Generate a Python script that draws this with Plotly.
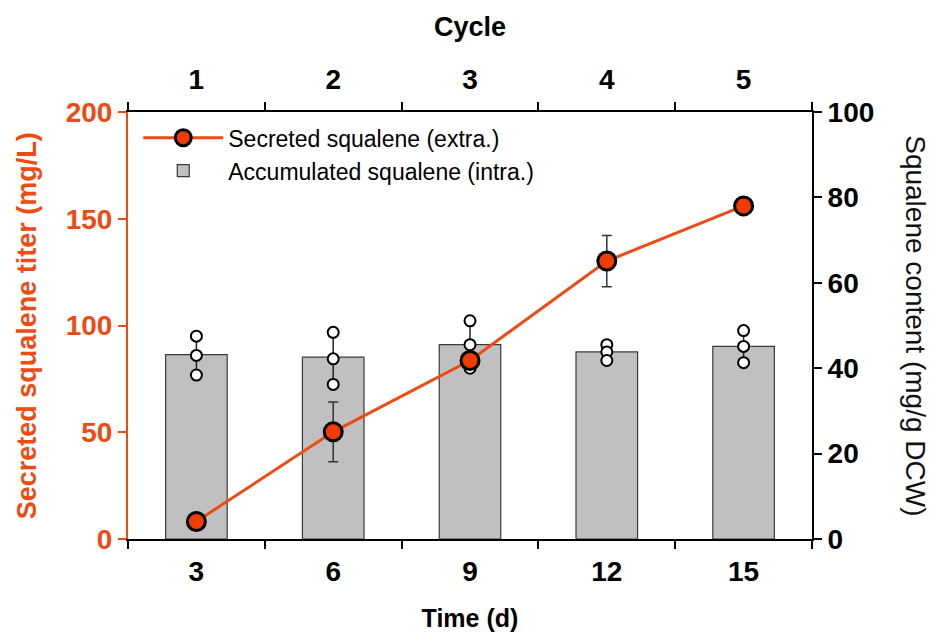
import plotly.graph_objects as go

days = ["3", "6", "9", "12", "15"]
cycles = ["1", "2", "3", "4", "5"]

# Secreted squalene titer (mg/L), left axis
secreted = [8.2, 50.2, 83.6, 130.2, 156.0]
secreted_err = [1.5, 14.0, 2.0, 12.0, 1.5]

# Accumulated squalene content (mg/g DCW), right axis
accumulated = [43.2, 42.6, 45.5, 43.8, 45.1]
accumulated_err = [4.5, 6.0, 5.2, 1.8, 3.7]
replicates = [
    [47.5, 43.0, 38.4],
    [48.4, 42.2, 36.2],
    [51.1, 45.5, 40.0],
    [45.5, 43.8, 41.8],
    [48.8, 45.1, 41.3],
]

ORANGE = "#EE4A14"
MARKER = "#F03C00"
FONT = "Liberation Sans, Arial, sans-serif"
TICK = 28

fig = go.Figure()

fig.add_trace(go.Scatter(
    x=days, y=secreted, name="Secreted squalene (extra.)",
    mode="lines+markers",
    line=dict(color=ORANGE, width=3),
    marker=dict(size=18, color=MARKER, line=dict(color="black", width=3)),
    error_y=dict(type="data", array=secreted_err, color="#333333", thickness=1.5, width=5),
    xaxis="x", yaxis="y2",
))

fig.add_trace(go.Bar(
    x=days, y=accumulated, name="Accumulated squalene (intra.)",
    marker=dict(color="#C0C0C0", line=dict(color="#3A3A3A", width=1.2)),
    width=0.45,
    error_y=dict(type="data", array=accumulated_err, color="#222222", thickness=1.5, width=0),
    xaxis="x", yaxis="y",
))

rep_x, rep_y = [], []
for d, vals in zip(days, replicates):
    for v in vals:
        rep_x.append(d)
        rep_y.append(v)
fig.add_trace(go.Scatter(
    x=rep_x, y=rep_y, mode="markers", showlegend=False, hoverinfo="skip",
    marker=dict(size=11, color="white", line=dict(color="black", width=2)),
    xaxis="x", yaxis="y",
))

# invisible trace so the top (cycle) axis is drawn
fig.add_trace(go.Scatter(
    x=cycles, y=[None] * len(cycles), mode="markers", showlegend=False,
    hoverinfo="skip", xaxis="x2", yaxis="y",
))

fig.update_layout(
    width=938, height=640,
    margin=dict(l=128, r=126, t=112, b=99),
    paper_bgcolor="white", plot_bgcolor="white",
    font=dict(family=FONT, color="black"),
    showlegend=True,
    legend=dict(x=0.015, y=0.99, xanchor="left", yanchor="top",
                font=dict(size=23, family=FONT, color="black"),
                bgcolor="rgba(0,0,0,0)", traceorder="normal",
                itemwidth=80),
    xaxis=dict(
        type="category", categoryorder="array", categoryarray=days,
        range=[-0.5, 4.5], tickson="boundaries",
        ticks="outside", ticklen=8, tickwidth=2, tickcolor="black",
        showline=True, linecolor="black", linewidth=2,
        tickfont=dict(size=TICK, family=FONT, weight="bold"),
        ticklabelstandoff=6,
        title=dict(text="<b>Time (d)</b>", font=dict(size=25), standoff=24),
        showgrid=False, zeroline=False,
    ),
    xaxis2=dict(
        type="category", categoryorder="array", categoryarray=cycles,
        range=[-0.5, 4.5], tickson="boundaries",
        overlaying="x", side="top", anchor="y",
        ticks="outside", ticklen=8, tickwidth=2, tickcolor="black",
        showline=True, linecolor="black", linewidth=2,
        tickfont=dict(size=TICK, family=FONT, weight="bold"),
        ticklabelstandoff=10,
        title=dict(text="<b>Cycle</b>", font=dict(size=27), standoff=19),
        showgrid=False, zeroline=False,
    ),
    yaxis=dict(
        side="right", range=[0, 100], tickvals=[0, 20, 40, 60, 80, 100],
        ticks="outside", ticklen=8, tickwidth=2, tickcolor="black",
        showline=True, linecolor="black", linewidth=2,
        tickfont=dict(size=TICK, family=FONT, weight="bold"),
        showgrid=False, zeroline=False,
    ),
    yaxis2=dict(
        side="left", overlaying="y", range=[0, 200], tickvals=[0, 50, 100, 150, 200],
        ticks="outside", ticklen=8, tickwidth=2, tickcolor=ORANGE,
        showline=True, linecolor=ORANGE, linewidth=2,
        tickfont=dict(size=TICK, family=FONT, color=ORANGE, weight="bold"),
        showgrid=False, zeroline=False,
    ),
    annotations=[
        dict(text="<b>Secreted squalene titer (mg/L)</b>", textangle=-90,
             xref="paper", yref="paper", x=-0.148, y=0.5,
             xanchor="center", yanchor="middle", showarrow=False,
             font=dict(size=27, family=FONT, color=ORANGE)),
        dict(text="Squalene content (mg/g DCW)", textangle=90,
             xref="paper", yref="paper", x=1.151, y=0.5,
             xanchor="center", yanchor="middle", showarrow=False,
             font=dict(size=28, family=FONT, color="#111111")),
    ],
)

fig.write_html("out.html")
